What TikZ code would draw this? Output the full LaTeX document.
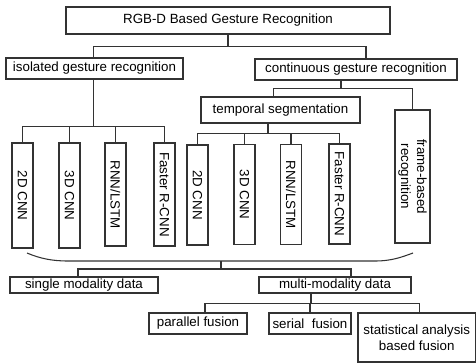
\documentclass[tikz,border=0pt]{standalone}
\usepackage{fontspec}
\setmainfont{Liberation Sans}
\usepackage{tikz}
\usetikzlibrary{positioning}
\tikzstyle{block} = [rectangle, draw=black!80, line width=0.8pt, inner sep=1pt, text centered]
\tikzstyle{vblock} = [block, rotate=-90, minimum height=15.75pt]
\tikzstyle{link} = [draw=black!80, line width=0.8pt]

\begin{document}
\begin{tikzpicture}[x=0.75pt, y=-0.75pt]
  \useasboundingbox (0,0) rectangle (476,364);
  \node (root) [block, minimum width=243pt, minimum height=20.25pt] at (228,20.5) {RGB-D Based Gesture Recognition};
  \node (iso) [block, minimum width=132.75pt, minimum height=15.75pt] at (94.5,68.5) {isolated gesture recognition};
  \node (cont) [block, minimum width=151.5pt, minimum height=15.75pt] at (356,69.5) {continuous gesture recognition};
  \node (temp) [block, minimum width=119.25pt, minimum height=19.5pt] at (280.5,110) {temporal segmentation};
  \node (frame) [block, rotate=-90, align=center, minimum width=99.75pt, minimum height=26.25pt] at (412.5,176.5) {frame-based\\recognition};

  \node (l1) [vblock, minimum width=78.75pt] at (22.5,195.5) {2D CNN};
  \node (l2) [vblock, minimum width=78.75pt] at (69.5,195.5) {3D CNN};
  \node (l3) [vblock, minimum width=77.25pt] at (115.5,194.5) {RNN/LSTM};
  \node (l4) [vblock, minimum width=77.25pt] at (164.5,194.5) {Faster R-CNN};
  \node (r1) [vblock, minimum width=75pt] at (197.5,195) {2D CNN};
  \node (r2) [vblock, minimum width=75pt] at (244.5,194.5) {3D CNN};
  \node (r3) [vblock, minimum width=75pt] at (291,194.5) {RNN/LSTM};
  \node (r4) [vblock, minimum width=75pt] at (339.5,194) {Faster R-CNN};

  \node (single) [block, minimum width=111pt, minimum height=12pt] at (84,285) {single modality data};
  \node (multi) [block, minimum width=114pt, minimum height=12pt] at (335,285) {multi-modality data};
  \node (par) [block, minimum width=73.5pt, minimum height=15.75pt] at (198,323.5) {parallel fusion};
  \node (ser) [block, minimum width=61.5pt, minimum height=15.75pt] at (310,323.5) {serial\ \ fusion};
  \node (stat) [block, align=center, minimum width=88.1pt, minimum height=36.75pt] at (416.75,337.5) {statistical analysis\\based fusion};

  \draw[link] (root.south) -- ++(0,12) coordinate (j1);
  \draw[link] ([xshift=-1.1pt]iso.north) |- (j1) -| ([xshift=7.5pt]cont.north);
  \draw[link] ([xshift=-11.25pt]cont.south) -- ++(0,8) coordinate (j2);
  \draw[link] ([xshift=-5.6pt]temp.north) |- (j2) -| (frame.west);

  \draw[link] ([xshift=-1.1pt]iso.south) -- ++(0,47) coordinate (j3);
  \draw[link] (l1.west) |- (j3) -| (l4.west);
  \draw[link] (l2.west) -- (l2.west |- j3);
  \draw[link] (l3.west) -- (l3.west |- j3);

  \draw[link] ([xshift=-9.4pt]temp.south) -- ++(0,10) coordinate (j4);
  \draw[link] (r1.west) |- (j4) -| (r4.west);
  \draw[link] (r2.west) -- (r2.west |- j4);
  \draw[link] (r3.west) -- (r3.west |- j4);

  \coordinate (bl) at (27,253);
  \coordinate (br) at (413,253);
  \coordinate (bm) at (221,261);
  \draw[link] (bl) .. controls (40,258.5) and (52,261) .. (68,261) -- (375,261) .. controls (392,261) and (402,257) .. (br);
  \draw[link] (bm) -- ++(0,8) coordinate (j5);
  \draw[link] ([xshift=-4.5pt]single.north) |- (j5) -| ([xshift=12pt]multi.north);

  \draw[link] ([xshift=-18pt]multi.south) -- ++(0,10) coordinate (j6);
  \draw[link] ([xshift=5.25pt]par.north) |- (j6) -| ([xshift=2.4pt]stat.north);
  \draw[link] (ser.north) -- (ser.north |- j6);
\end{tikzpicture}
\end{document}
